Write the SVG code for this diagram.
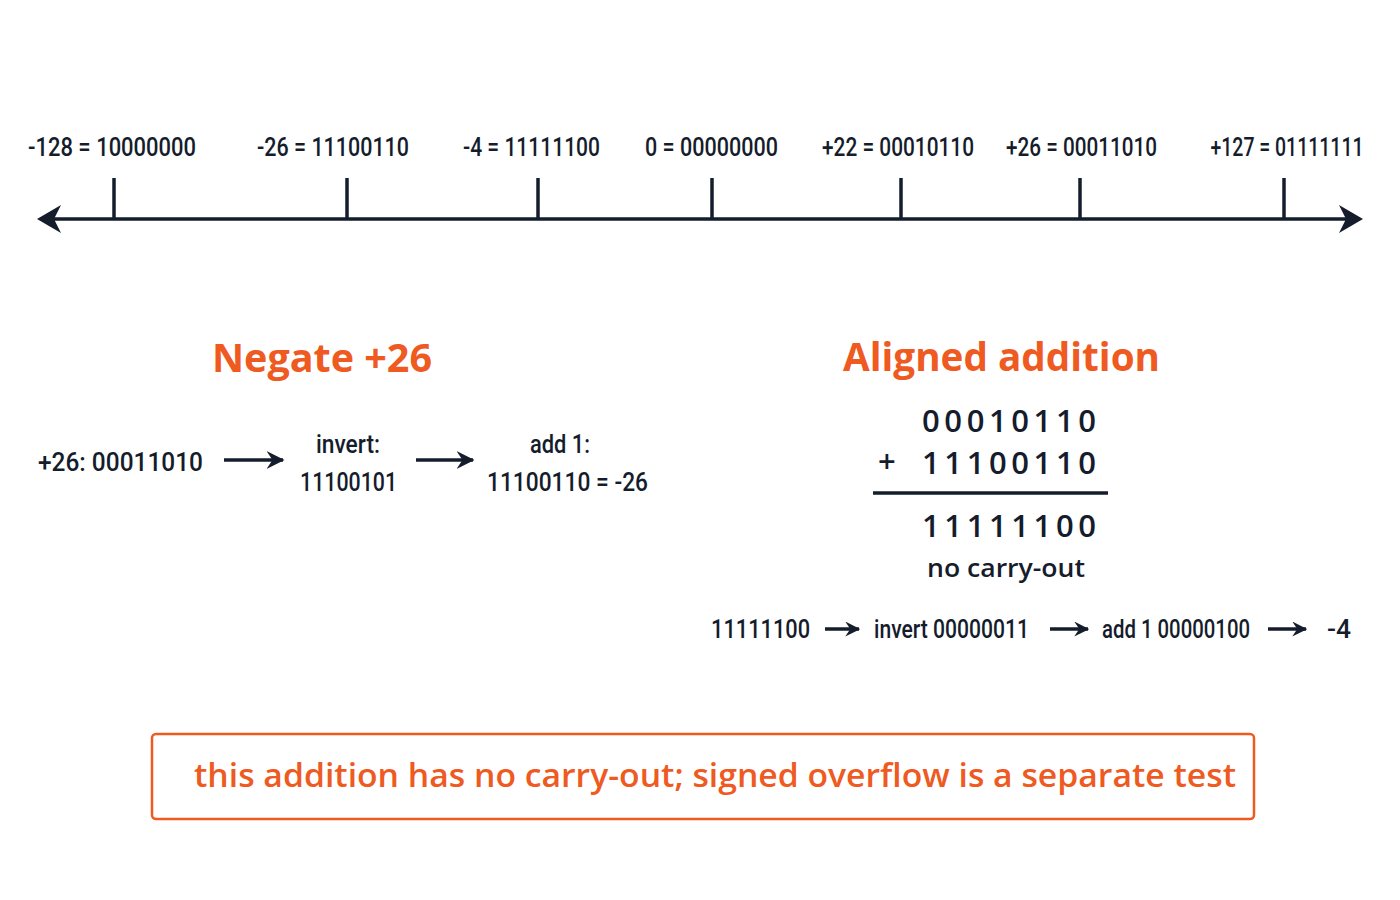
<svg xmlns="http://www.w3.org/2000/svg" width="1400" height="900" viewBox="0 0 1400 900">
<defs>
<style>
.lbl{font-family:"Roboto","Liberation Sans",sans-serif;font-size:25px;fill:#151c2c;font-weight:500;}
.step{font-family:"Roboto","Liberation Sans",sans-serif;font-size:26px;fill:#151c2c;font-weight:500;}
.title{font-family:"Open Sans","Noto Sans","Liberation Sans",sans-serif;font-size:39px;font-weight:700;fill:#ee5a1f;}
.mono{font-family:"Open Sans","Noto Sans","Liberation Sans",sans-serif;font-size:31px;fill:#151c2c;font-weight:600;}
.note{font-family:"Open Sans","Noto Sans","Liberation Sans",sans-serif;font-size:26px;fill:#151c2c;font-weight:600;}
.warn{font-family:"Open Sans","Noto Sans","Liberation Sans",sans-serif;font-size:32px;font-weight:600;fill:#ee5a1f;}
.axis{stroke:#151c2c;stroke-width:3.5;fill:none;}
.tick{stroke:#151c2c;stroke-width:3.5;}
.arr{stroke:#151c2c;stroke-width:3.5;fill:none;}
</style>
<marker id="ahs" viewBox="0 0 12 12" refX="11" refY="6" markerWidth="18" markerHeight="18" orient="auto" markerUnits="userSpaceOnUse">
<path d="M0,0 L12,6 L0,12 L4,6 Z" fill="#151c2c"/>
</marker>
<marker id="ahm" viewBox="0 0 12 12" refX="11" refY="6" markerWidth="15" markerHeight="15" orient="auto" markerUnits="userSpaceOnUse">
<path d="M0,0 L12,6 L0,12 L4,6 Z" fill="#151c2c"/>
</marker>
</defs>
<rect width="1400" height="900" fill="#ffffff"/>

<g id="numberline">
<line class="axis" x1="48" y1="219" x2="1352" y2="219"/>
<path d="M37,219 L61,205 L54,219 L61,233 Z" fill="#151c2c"/>
<path d="M1363,219 L1339,205 L1346,219 L1339,233 Z" fill="#151c2c"/>
<line class="tick" x1="114" y1="178" x2="114" y2="219"/>
<line class="tick" x1="347" y1="178" x2="347" y2="219"/>
<line class="tick" x1="538" y1="178" x2="538" y2="219"/>
<line class="tick" x1="712" y1="178" x2="712" y2="219"/>
<line class="tick" x1="901" y1="178" x2="901" y2="219"/>
<line class="tick" x1="1080" y1="178" x2="1080" y2="219"/>
<line class="tick" x1="1284" y1="178" x2="1284" y2="219"/>
<text class="lbl" x="28" y="156" textLength="168" lengthAdjust="spacingAndGlyphs">-128 = 10000000</text>
<text class="lbl" x="257" y="156" textLength="152" lengthAdjust="spacingAndGlyphs">-26 = 11100110</text>
<text class="lbl" x="463" y="156" textLength="137" lengthAdjust="spacingAndGlyphs">-4 = 11111100</text>
<text class="lbl" x="645" y="156" textLength="133" lengthAdjust="spacingAndGlyphs">0 = 00000000</text>
<text class="lbl" x="822" y="156" textLength="152" lengthAdjust="spacingAndGlyphs">+22 = 00010110</text>
<text class="lbl" x="1006" y="156" textLength="151" lengthAdjust="spacingAndGlyphs">+26 = 00011010</text>
<text class="lbl" x="1287" y="156" text-anchor="middle" textLength="153" lengthAdjust="spacingAndGlyphs">+127 = 01111111</text>
</g>

<g id="negate">
<text class="title" x="212" y="372" textLength="220" lengthAdjust="spacingAndGlyphs">Negate +26</text>
<text class="step" x="38" y="471" textLength="165" lengthAdjust="spacingAndGlyphs">+26: 00011010</text>
<text class="step" x="348" y="453" text-anchor="middle" textLength="64" lengthAdjust="spacingAndGlyphs">invert:</text>
<text class="step" x="300" y="491" textLength="97" lengthAdjust="spacingAndGlyphs">11100101</text>
<text class="step" x="560" y="453" text-anchor="middle" textLength="60" lengthAdjust="spacingAndGlyphs">add 1:</text>
<text class="step" x="487" y="491" textLength="161" lengthAdjust="spacingAndGlyphs">11100110 = -26</text>
</g>

<g id="addition">
<text class="title" x="843" y="371" textLength="317" lengthAdjust="spacingAndGlyphs">Aligned addition</text>
<text class="mono" x="922" y="432" textLength="174" lengthAdjust="spacing">00010110</text>
<text class="mono" x="878" y="472">+</text>
<text class="mono" x="922" y="474" textLength="174" lengthAdjust="spacing">11100110</text>
<line x1="873" y1="493" x2="1108" y2="493" stroke="#151c2c" stroke-width="3.5"/>
<text class="mono" x="922" y="537" textLength="174" lengthAdjust="spacing">11111100</text>
<text class="note" x="1006" y="577" text-anchor="middle" textLength="158" lengthAdjust="spacingAndGlyphs">no carry-out</text>
</g>

<g id="decode">
<text class="step" x="711" y="638" textLength="99" lengthAdjust="spacingAndGlyphs">11111100</text>
<text class="step" x="874" y="638" font-size="24" textLength="155" lengthAdjust="spacingAndGlyphs">invert 00000011</text>
<text class="step" x="1102" y="638" font-size="24" textLength="148" lengthAdjust="spacingAndGlyphs">add 1 00000100</text>
<text class="step" x="1327" y="638" font-size="24" textLength="24" lengthAdjust="spacingAndGlyphs">-4</text>
</g>

<g id="note">
<rect x="152" y="734" width="1102" height="85" rx="4" fill="none" stroke="#ee5a1f" stroke-width="2.5"/>
<text class="warn" x="194" y="787" textLength="1042" lengthAdjust="spacingAndGlyphs">this addition has no carry-out; signed overflow is a separate test</text>
</g>

<g id="connectors">
<line class="arr" x1="224" y1="460" x2="283" y2="460" marker-end="url(#ahs)"/>
<line class="arr" x1="416" y1="460" x2="473" y2="460" marker-end="url(#ahs)"/>
<line class="arr" x1="825" y1="629" x2="859" y2="629" stroke-width="2.8" marker-end="url(#ahm)"/>
<line class="arr" x1="1050" y1="629" x2="1088" y2="629" stroke-width="2.8" marker-end="url(#ahm)"/>
<line class="arr" x1="1268" y1="629" x2="1306" y2="629" stroke-width="2.8" marker-end="url(#ahm)"/>
</g>
</svg>
